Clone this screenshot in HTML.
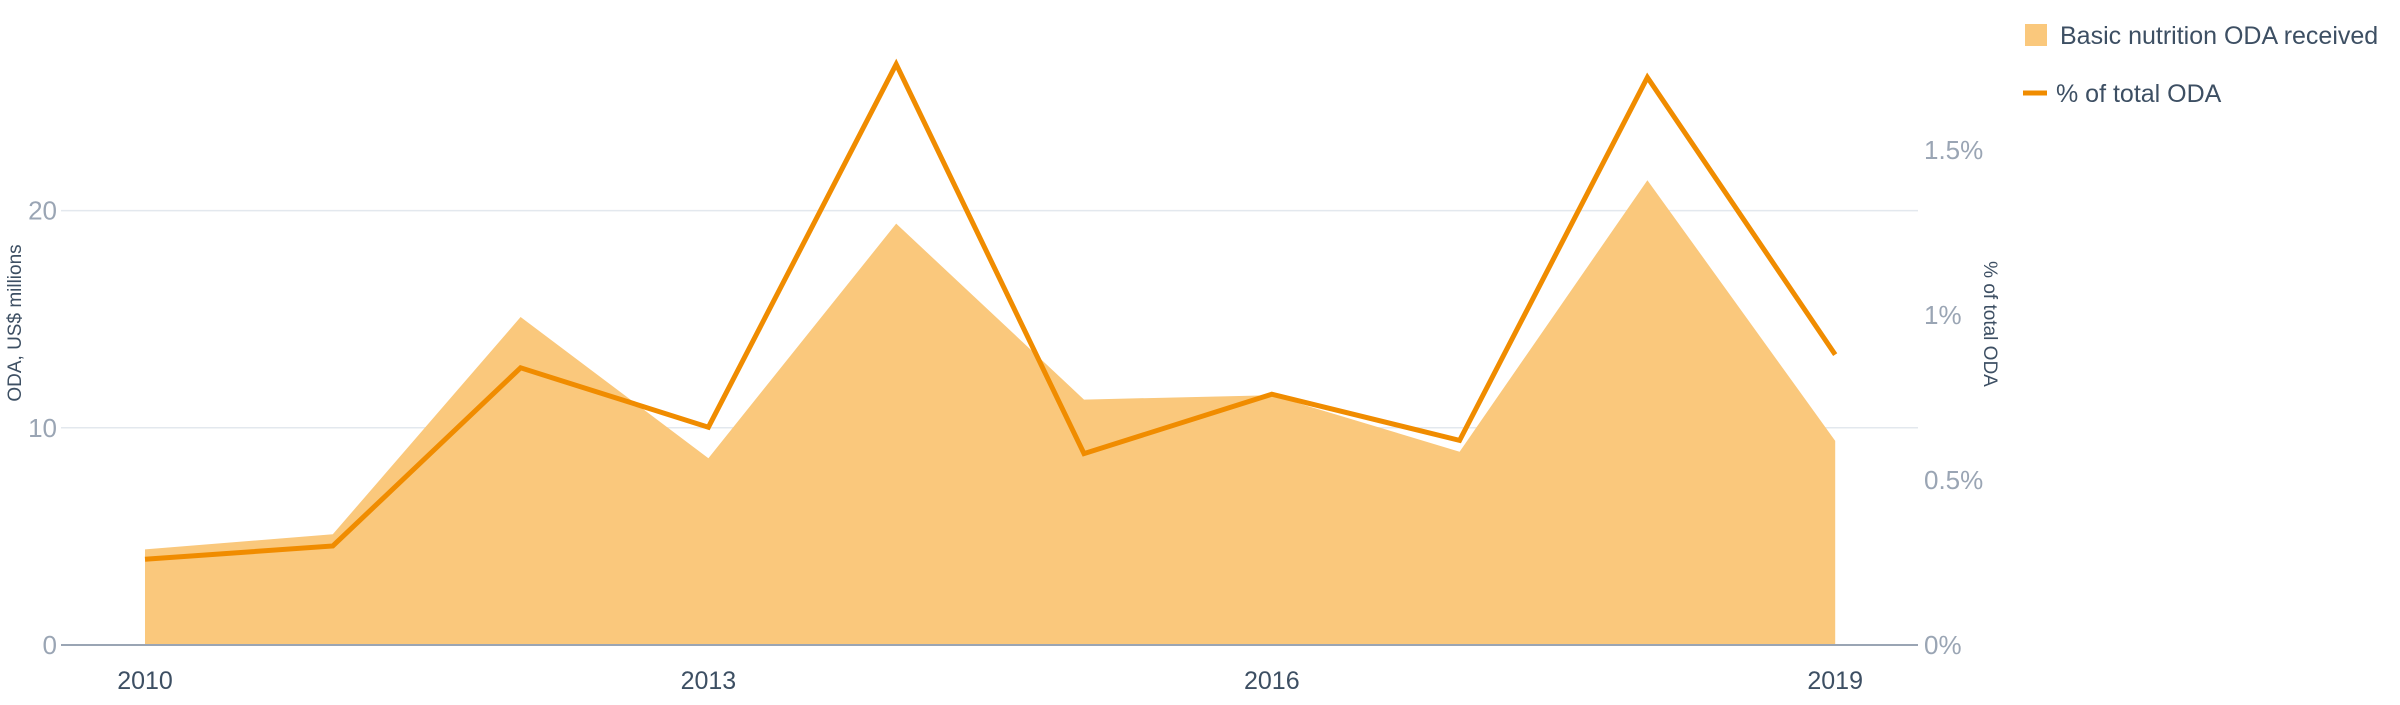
<!DOCTYPE html>
<html><head><meta charset="utf-8"><style>
body{margin:0;background:#fff;width:2400px;height:700px;overflow:hidden;font-family:"Liberation Sans",sans-serif}
</style></head><body>
<svg id="chart" width="2400" height="700" xmlns="http://www.w3.org/2000/svg" font-family="Liberation Sans, sans-serif"></svg>
<script>
const years=[2010,2011,2012,2013,2014,2015,2016,2017,2018,2019];
const odaValues=[4.4,5.1,15.1,8.6,19.4,11.3,11.5,8.9,21.4,9.4];
const pctValues=[0.26,0.30,0.84,0.66,1.76,0.58,0.76,0.62,1.72,0.88];
const leftTicks=[0,10,20];
const rightTicks=[0,0.5,1,1.5];
const rightTickLabels=["0%","0.5%","1%","1.5%"];
const xTicks=[2010,2013,2016,2019];

const NS="http://www.w3.org/2000/svg";
const svg=document.getElementById('chart');
const x=v=>145+(v-2010)*187.8;
const yL=v=>645-v*21.72;
const yR=v=>645-v*330;
function mk(t,a,txt){const e=document.createElementNS(NS,t);for(const k in a)e.setAttribute(k,a[k]);if(txt!==undefined)e.textContent=txt;svg.appendChild(e);return e;}

leftTicks.forEach(t=>{
  if(t>0){const g=mk('line',{x1:61,x2:1918,y1:yL(t),y2:yL(t),stroke:'#e3e8ee','stroke-width':1.5});
  
  }
  const l=mk('text',{x:57,y:yL(t)+9,'text-anchor':'end','font-size':26,fill:'#9aa5b4'},String(t));
  
  
});
rightTicks.forEach((t,i)=>{
  const l=mk('text',{x:1924,y:yR(t)+9,'font-size':26,fill:'#9aa5b4'},rightTickLabels[i]);
  
  
});
let d='M'+x(years[0])+','+yL(0);
years.forEach((yr,i)=>{d+=' L'+x(yr)+','+yL(odaValues[i]);});
d+=' L'+x(years[years.length-1])+','+yL(0)+' Z';
const area=mk('path',{d:d,fill:'#fac87c'});



const axis=mk('line',{x1:61,x2:1918,y1:645,y2:645,stroke:'#9aa5b4','stroke-width':2});



const pts=years.map((yr,i)=>x(yr)+','+yR(pctValues[i])).join(' ');
const line=mk('polyline',{points:pts,fill:'none',stroke:'#f08c00','stroke-width':5,'stroke-linejoin':'miter'});



xTicks.forEach(t=>{
  const l=mk('text',{x:x(t),y:689,'text-anchor':'middle','font-size':25,fill:'#3d4f63'},String(t));
  
  
});
const lt=mk('text',{transform:'translate(21,323) rotate(-90)','text-anchor':'middle','font-size':19,fill:'#3d4f63'},'ODA, US$ millions');


const rt=mk('text',{transform:'translate(1984,324) rotate(90)','text-anchor':'middle','font-size':19,fill:'#3d4f63'},'% of total ODA');



const s1=mk('rect',{x:2025,y:24,width:22,height:22,fill:'#fac87c'});


const t1=mk('text',{x:2060,y:44,'font-size':25,fill:'#3d4f63'},'Basic nutrition ODA received');


const s2=mk('line',{x1:2023,x2:2047,y1:93,y2:93,stroke:'#f08c00','stroke-width':5});


const t2=mk('text',{x:2056,y:102,'font-size':25,fill:'#3d4f63'},'% of total ODA');


</script>
</body></html>
